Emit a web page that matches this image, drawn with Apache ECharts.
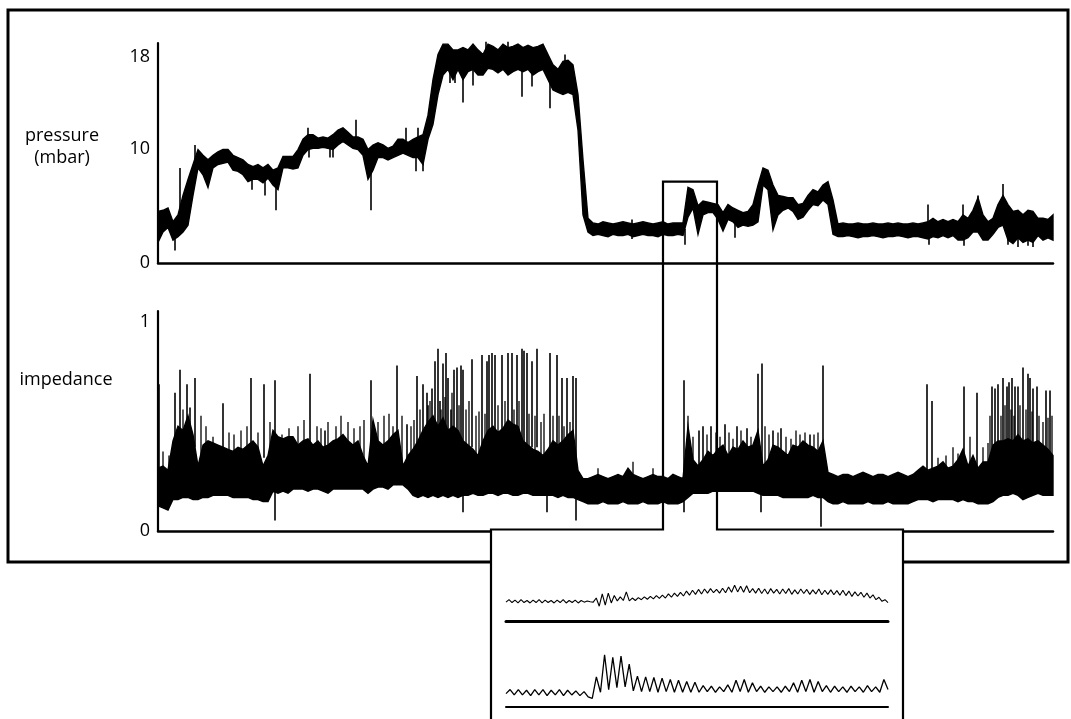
<!DOCTYPE html>
<html>
<head>
<meta charset="utf-8">
<script src="https://cdn.jsdelivr.net/npm/echarts@6/dist/echarts.min.js"></script>
<style>
  html, body { margin: 0; padding: 0; background: #fff; }
  #chart { width: 1071px; height: 719px; }
</style>
</head>
<body>
<div id="chart"></div>
<script>
// ---- recording: time in seconds, one envelope sample every 10 s ----
const sampleStep = 10;
const recordEnd = 1790;

// pressure envelope (mbar): upper and lower edge of the trace band
const pressureHigh = [
  4.5,4.6,4.8,3.6,4.2,5.9,7.3,8.6,9.9,9.4,
  9.0,9.4,9.7,9.9,9.9,9.4,9.2,9.0,8.6,8.4,
  8.6,8.3,8.6,8.1,8.3,9.3,9.3,9.3,9.9,10.8,
  11.2,11.2,10.9,11.0,10.9,11.2,11.6,11.8,11.4,11.0,
  11.0,10.8,9.9,10.3,10.5,10.3,10.0,10.2,10.8,10.8,
  10.5,10.8,11.0,11.2,12.9,16.0,18.2,19.1,19.1,18.6,
  18.6,18.8,18.6,19.1,18.6,18.2,19.1,18.9,18.6,19.1,
  18.8,18.9,19.1,18.8,19.0,18.8,18.9,19.1,18.2,17.3,
  16.9,17.6,17.7,17.3,14.7,9.0,3.9,
  3.5,3.4,3.6,3.5,3.4,3.5,3.6,3.5,3.4,3.5,3.6,3.5,3.4,3.5,3.6,3.4,3.5,3.5,3.5,
  6.6,6.4,5.0,5.4,5.3,5.2,5.1,4.4,5.1,4.8,
  4.6,4.4,4.5,5.1,6.8,8.3,8.1,6.8,5.9,5.8,
  5.7,5.7,5.1,5.2,5.9,6.4,6.2,6.8,7.1,5.5,
  3.4,3.5,3.4,3.4,3.5,3.4,3.4,3.5,3.4,3.4,3.5,3.4,3.5,3.4,3.4,3.5,3.4,3.5,
  3.6,3.9,3.6,3.8,3.6,3.8,3.6,4.2,3.9,4.6,
  5.7,4.2,3.6,3.9,5.1,5.9,5.1,4.5,4.6,4.2,
  4.6,4.5,3.9,3.9,3.8,4.2
];
const pressureLow = [
  1.8,2.7,3.1,2.0,2.3,2.7,3.3,5.9,8.3,7.7,
  6.6,8.3,8.6,8.7,8.8,8.1,8.0,7.7,7.1,7.3,
  7.3,7.0,7.4,6.8,6.4,8.3,8.3,8.2,8.3,9.4,
  9.9,10.0,10.0,10.1,10.0,9.9,10.3,10.6,10.3,10.0,
  9.9,9.4,7.3,8.1,9.2,9.2,9.0,9.2,9.4,9.6,
  9.4,9.2,9.2,8.6,10.8,12.1,14.7,16.4,16.9,16.0,
  16.9,16.0,16.7,16.9,16.4,16.4,17.0,16.9,16.6,16.9,
  16.4,16.7,16.9,16.7,16.9,16.4,16.7,16.9,16.0,15.1,
  14.9,14.7,14.9,14.7,11.6,4.2,2.7,
  2.4,2.5,2.4,2.3,2.5,2.4,2.4,2.5,2.3,2.4,2.5,2.4,2.4,2.3,2.5,2.4,2.4,2.5,2.4,
  4.0,4.8,2.5,4.2,4.4,4.4,3.8,2.8,3.8,3.6,
  3.1,3.3,3.2,3.3,3.6,6.8,6.4,2.9,4.2,4.6,
  4.8,4.5,3.8,4.0,4.6,5.1,5.0,5.5,5.1,2.5,
  2.3,2.3,2.4,2.3,2.2,2.3,2.3,2.4,2.3,2.2,2.3,2.3,2.4,2.3,2.2,2.3,2.3,2.2,
  2.1,2.3,2.2,2.4,2.2,2.4,2.0,2.0,2.2,2.7,
  2.7,2.0,2.0,2.5,3.1,3.3,2.0,1.7,2.2,1.8,
  2.0,1.8,2.4,2.0,2.2,2.0
];
// short pressure transients: time (s), from, to (mbar)
const pressureSpikeTime = [34,44,74,188,214,236,300,302,344,350,396,426,496,516,520,530,584,594,610,630,656,700,728,748,784,814,948,1054,1154,1540,1542,1610,1612,1640,1690,1700,1720,1740,1750];
const pressureSpikeFrom = [1.1,2.8,8.5,6.4,5.9,4.6,10.5,9.2,9.2,9.2,11.0,4.6,10.5,8.0,10.5,8.0,15.7,15.7,14.0,15.5,17.5,17.5,14.5,15.4,13.5,16.0,2.1,1.6,2.2,2.5,1.6,2.5,1.5,3.0,4.0,1.6,1.4,1.5,1.4];
const pressureSpikeTo = [3.0,8.3,10.3,8.0,7.5,7.0,11.8,10.5,10.5,10.5,12.5,8.0,11.8,10.0,11.8,10.0,17.5,17.5,17.0,17.0,19.3,19.3,17.0,17.0,16.5,18.2,3.8,3.0,3.5,5.1,3.0,5.1,3.0,5.9,6.9,3.0,3.0,3.0,3.0];

// impedance envelope (relative units)
const impedanceHigh = [
  .30,.31,.29,.43,.50,.48,.55,.46,.31,.41,
  .43,.42,.41,.40,.39,.38,.40,.39,.41,.43,
  .40,.31,.36,.48,.45,.44,.45,.45,.41,.43,
  .44,.41,.43,.40,.41,.43,.44,.46,.43,.41,
  .43,.36,.31,.53,.43,.41,.43,.46,.48,.31,
  .36,.39,.43,.48,.52,.55,.50,.54,.48,.50,
  .48,.43,.41,.39,.36,.43,.48,.50,.47,.49,
  .53,.51,.50,.43,.41,.39,.38,.36,.39,.43,
  .41,.43,.46,.48,.29,.25,.25,
  .26,.27,.26,.25,.26,.27,.26,.30,.27,.26,.25,.26,.27,.26,.26,.25,.27,.26,
  .25,.50,.34,.31,.34,.38,.36,.39,.41,.36,
  .40,.39,.43,.40,.41,.48,.31,.34,.41,.40,
  .38,.36,.41,.40,.43,.41,.40,.38,.43,.28,
  .27,.26,.27,.27,.26,.27,.28,.27,.26,.27,.27,.26,.27,.28,.27,.26,
  .27,.29,.31,.29,.30,.31,.33,.30,.31,.34,
  .39,.31,.36,.30,.33,.33,.41,.43,.43,.44,
  .43,.46,.43,.44,.42,.43,.41,.39,.36
];
const impedanceLow = [
  .12,.11,.10,.15,.15,.16,.16,.15,.15,.16,
  .16,.17,.17,.17,.17,.16,.16,.16,.16,.15,
  .15,.14,.14,.19,.18,.19,.18,.20,.20,.20,
  .19,.20,.20,.19,.18,.20,.20,.20,.20,.20,
  .20,.20,.18,.20,.21,.21,.20,.22,.22,.22,
  .20,.17,.16,.17,.16,.17,.16,.17,.16,.17,
  .16,.17,.17,.18,.17,.17,.18,.18,.17,.18,
  .18,.17,.17,.18,.18,.17,.17,.17,.17,.17,
  .16,.17,.16,.16,.15,.14,.13,
  .13,.13,.14,.13,.13,.13,.14,.13,.13,.13,.14,.13,.13,.13,.14,.13,.13,.13,
  .14,.16,.18,.18,.18,.18,.19,.19,.19,.19,
  .19,.19,.19,.19,.19,.18,.17,.17,.17,.17,
  .16,.16,.16,.16,.16,.16,.17,.16,.16,.14,
  .13,.13,.14,.13,.13,.13,.13,.14,.13,.13,.13,.14,.13,.13,.13,.13,
  .14,.15,.15,.15,.14,.15,.15,.15,.15,.14,
  .15,.14,.14,.13,.13,.13,.14,.16,.17,.17,
  .18,.17,.15,.16,.17,.18,.17,.17,.17
];
// large impedance transients: time (s), from, to
const impSpikeTime = [2,34,44,58,64,74,130,186,212,234,304,334,426,478,498,518,530,538,540,548,554,560,564,570,576,580,586,592,598,606,610,628,648,658,662,668,674,688,700,708,718,728,732,738,748,758,778,784,798,808,818,830,836,1052,1082,1090,1106,1134,1158,1178,1200,1206,1208,1230,1246,1304,1326,1330,1538,1548,1612,1638,1668,1674,1680,1690,1698,1702,1708,1714,1720,1730,1740,1744,1750,1758,1776,1784];
const impSpikeFrom = [.25,.40,.40,.40,.40,.40,.35,.35,.35,.05,.35,.35,.30,.35,.30,.35,.40,.40,.40,.40,.40,.40,.40,.40,.40,.40,.40,.40,.40,.40,.09,.40,.40,.40,.40,.40,.40,.40,.40,.40,.40,.40,.40,.40,.40,.40,.09,.40,.40,.40,.40,.40,.05,.09,.30,.30,.30,.30,.30,.30,.30,.09,.30,.30,.30,.30,.02,.30,.25,.25,.25,.25,.30,.30,.30,.30,.30,.30,.30,.30,.30,.30,.30,.30,.30,.30,.30,.30];
const impSpikeTo = [.70,.66,.77,.70,.59,.73,.61,.73,.70,.72,.75,.48,.72,.79,.51,.74,.70,.66,.60,.68,.81,.87,.62,.80,.85,.73,.58,.77,.78,.79,.77,.82,.84,.81,.84,.85,.84,.84,.85,.85,.84,.87,.86,.85,.81,.87,.30,.85,.84,.73,.73,.74,.73,.72,.48,.50,.50,.51,.50,.49,.75,.30,.80,.48,.49,.46,.30,.79,.70,.62,.69,.66,.69,.68,.70,.73,.69,.71,.73,.69,.69,.78,.75,.73,.68,.69,.67,.67];
// smaller impedance fluctuations rising out of the band: time (s), peak
const impHairTime = [10,22,50,86,96,110,142,152,166,178,200,224,248,262,280,292,318,326,340,356,366,380,392,404,412,440,452,462,470,488,506,512,524,
  544,566,574,588,602,616,622,636,642,654,680,694,712,722,742,754,766,772,790,802,812,824,
  880,950,990,1060,1070,1098,1116,1124,1142,1150,1166,1186,1214,1222,1240,1256,1266,1276,1284,1294,1312,1320,
  1560,1576,1590,1600,1624,1650,1660,1664,1686,1694,1706,1712,1724,1736,1748,1762,1770,1780,1788];
const impHairTop = [.38,.36,.58,.55,.50,.45,.47,.46,.48,.50,.47,.52,.46,.49,.50,.53,.50,.49,.52,.50,.55,.52,.49,.50,.53,.52,.55,.56,.50,.55,.50,.53,.58,
  .62,.58,.64,.66,.60,.58,.62,.55,.57,.56,.60,.62,.58,.62,.56,.55,.52,.56,.55,.55,.50,.52,
  .30,.33,.30,.55,.45,.46,.47,.45,.47,.44,.48,.45,.50,.46,.47,.45,.44,.48,.46,.47,.46,.47,
  .35,.36,.40,.37,.45,.40,.42,.55,.55,.60,.58,.55,.60,.58,.57,.55,.52,.54,.55];
const impHairBase = 0.22;

// expanded window (s) and the pressure level of its upper edge
const zoomWindow = [1010, 1118];
const zoomTop = 7.1;

// expanded traces, one value per sample (arbitrary units)
const insetPressure = [
  4.6,5.2,4.5,5.1,4.4,5.2,4.5,5.0,4.4,5.1,4.5,5.2,4.4,5.1,4.5,5.0,4.4,5.1,4.5,5.2,4.4,5.0,4.5,5.1,4.4,5.0,4.6,4.9,
  4.7,4.6,5.6,3.6,6.6,3.9,6.8,
  4.4,6.2,4.9,5.9,5.0,7.1,4.9,5.6,5.0,5.7,
  5.2,5.9,5.3,6.0,5.4,6.2,5.5,6.3,5.6,6.6,5.8,6.8,6.0,7.0,6.1,7.3,6.3,7.5,6.5,7.7,
  6.6,7.8,6.8,7.9,6.9,7.7,6.8,8.0,6.9,8.3,7.0,8.7,7.1,8.5,7.0,8.6,
  6.9,7.9,6.8,8.0,6.7,7.8,6.6,7.9,6.8,7.7,6.6,7.8,6.7,7.9,6.5,7.6,6.6,7.8,6.7,7.7,6.5,7.6,6.6,7.8,6.4,7.5,6.5,7.6,6.4,
  7.4,6.3,7.5,6.2,7.3,6.0,7.1,6.1,7.0,5.8,6.8,
  5.6,6.4,5.2,5.8,4.8,5.2,4.5
];
const insetImpedance = [
  2.0,2.6,1.8,2.6,1.8,2.5,1.7,2.6,1.8,2.6,1.7,2.5,1.8,2.6,1.7,2.5,1.8,2.4,1.7,2.3,1.5,
  1.3,4.5,2.2,7.8,2.6,7.4,2.9,7.6,3.0,6.4,
  2.4,4.6,2.3,4.5,2.3,4.4,2.2,4.3,2.3,4.1,2.2,4.0,2.2,3.8,2.2,3.7,
  2.2,3.2,2.3,3.1,2.2,3.0,2.3,3.3,2.2,4.0,2.3,4.1,2.2,3.6,2.3,3.1,2.2,3.0,2.3,3.0,2.2,3.1,2.3,3.6,
  2.2,4.0,2.3,4.1,2.2,3.8,2.3,3.2,2.2,3.1,2.3,3.0,2.2,3.1,2.3,3.0,2.2,3.2,2.3,3.0,2.2,4.1,2.6
];

const pressureTicks = [0, 10, 18];
const impedanceTicks = [0, 1];

// ---- drawing ----
const FONT = '"Open Sans", "Noto Sans", sans-serif';
const INK = '#000';

// filled band between the lower and upper envelope
function bandSeries(axisIndex, high, low) {
  return {
    type: 'custom',
    xAxisIndex: axisIndex, yAxisIndex: axisIndex,
    data: [[0, low[0]]],
    z: 2,
    renderItem: function (params, api) {
      const pts = [];
      for (let i = 0; i < high.length; i++) pts.push(api.coord([i * sampleStep, high[i]]));
      for (let i = low.length - 1; i >= 0; i--) pts.push(api.coord([i * sampleStep, low[i]]));
      return { type: 'polygon', shape: { points: pts },
        style: { fill: INK, stroke: INK, lineWidth: 1.4, lineJoin: 'miter' } };
    }
  };
}
// thin vertical strokes for transients
function spikeSeries(axisIndex, times, from, to, width) {
  return {
    type: 'custom',
    xAxisIndex: axisIndex, yAxisIndex: axisIndex,
    data: times.map((t, i) => [t, Array.isArray(from) ? from[i] : from, to[i]]),
    encode: { x: 0, y: [1, 2] },
    z: 3,
    renderItem: function (params, api) {
      const a = api.coord([api.value(0), api.value(1)]);
      const b = api.coord([api.value(0), api.value(2)]);
      return { type: 'line', shape: { x1: a[0], y1: a[1], x2: b[0], y2: b[1] },
        style: { stroke: INK, lineWidth: width } };
    }
  };
}

const mainX = (grid) => ({
  type: 'value', gridIndex: grid, min: 0, max: recordEnd,
  axisLine: { show: true, onZero: false, lineStyle: { color: INK, width: 2.5 } },
  axisTick: { show: false }, axisLabel: { show: false }, splitLine: { show: false }
});
const mainY = (grid, max, ticks) => ({
  type: 'value', gridIndex: grid, min: 0, max: max,
  axisLine: { show: true, lineStyle: { color: INK, width: 2.2 } },
  axisTick: { show: false }, splitLine: { show: false },
  axisLabel: { customValues: ticks, color: INK, fontSize: 18, fontFamily: FONT, margin: 8 }
});
const insetX = (grid, n, w) => ({
  type: 'value', gridIndex: grid, min: 0, max: n - 1, z: 5,
  axisLine: { show: true, onZero: false, lineStyle: { color: INK, width: w } },
  axisTick: { show: false }, axisLabel: { show: false }, splitLine: { show: false }
});
const insetY = (grid) => ({
  type: 'value', gridIndex: grid, min: 0, max: 10, show: false
});

const option = {
  animation: false,
  backgroundColor: '#fff',
  grid: [
    { left: 158, top: 43, width: 895, height: 220 },
    { left: 158, top: 311, width: 895, height: 220 },
    { left: 506, top: 580, width: 382, height: 41 },
    { left: 506, top: 640, width: 382, height: 67 }
  ],
  xAxis: [mainX(0), mainX(1), insetX(2, insetPressure.length, 3), insetX(3, insetImpedance.length, 2)],
  yAxis: [mainY(0, 19.2, pressureTicks), mainY(1, 1.05, impedanceTicks), insetY(2), insetY(3)],
  series: [
    bandSeries(0, pressureHigh, pressureLow),
    spikeSeries(0, pressureSpikeTime, pressureSpikeFrom, pressureSpikeTo, 1.6),
    bandSeries(1, impedanceHigh, impedanceLow),
    spikeSeries(1, impHairTime, impHairBase, impHairTop, 1.3),
    spikeSeries(1, impSpikeTime, impSpikeFrom, impSpikeTo, 1.6),
    {
      type: 'line', xAxisIndex: 2, yAxisIndex: 2, z: 6,
      data: insetPressure.map((v, i) => [i, v]),
      showSymbol: false, lineStyle: { color: INK, width: 1.1 }
    },
    {
      type: 'line', xAxisIndex: 3, yAxisIndex: 3, z: 6,
      data: insetImpedance.map((v, i) => [i, v]),
      showSymbol: false, lineStyle: { color: INK, width: 1.3 }
    }
  ]
};

const chart = echarts.init(document.getElementById('chart'), null, { renderer: 'canvas' });
chart.setOption(option);

// outline, expanded-window marker and panel labels
const winLeft = chart.convertToPixel({ gridIndex: 0 }, [zoomWindow[0], zoomTop]);
const winRight = chart.convertToPixel({ gridIndex: 0 }, [zoomWindow[1], zoomTop]);
const impBase = chart.convertToPixel({ gridIndex: 1 }, [0, 0])[1] - 1.5;
const insetL = 491, insetR = 903;

chart.setOption({
  graphic: [
    { type: 'rect', z: 0, shape: { x: 8, y: 10, width: 1060, height: 552 },
      style: { fill: 'none', stroke: INK, lineWidth: 3 } },
    { type: 'rect', z: 1, shape: { x: insetL, y: impBase, width: insetR - insetL, height: 260 },
      style: { fill: '#fff', stroke: 'none' } },
    { type: 'polyline', z: 10,
      shape: { points: [[insetL, 740], [insetL, impBase], [winLeft[0], impBase], [winLeft[0], winLeft[1]],
                        [winRight[0], winRight[1]], [winRight[0], impBase], [insetR, impBase], [insetR, 740]] },
      style: { fill: 'none', stroke: INK, lineWidth: 2.2 } },
    { type: 'text', z: 10, style: { x: 62, y: 136, text: 'pressure', fill: INK,
      font: '18px ' + FONT, textAlign: 'center', textVerticalAlign: 'middle' } },
    { type: 'text', z: 10, style: { x: 62, y: 158, text: '(mbar)', fill: INK,
      font: '18px ' + FONT, textAlign: 'center', textVerticalAlign: 'middle' } },
    { type: 'text', z: 10, style: { x: 66, y: 380, text: 'impedance', fill: INK,
      font: '18px ' + FONT, textAlign: 'center', textVerticalAlign: 'middle' } }
  ]
});
</script>
</body>
</html>
